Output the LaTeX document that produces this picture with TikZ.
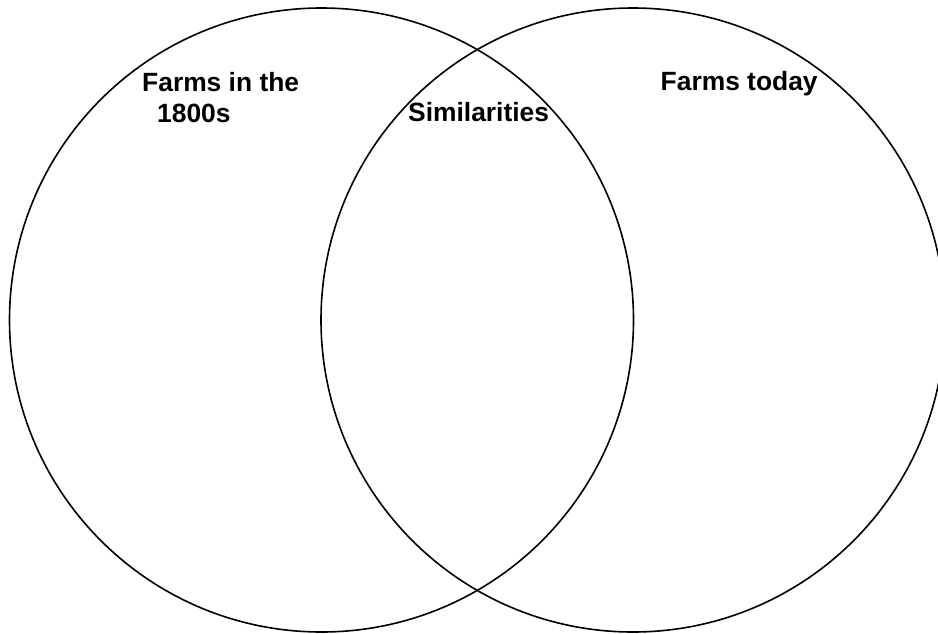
\documentclass[tikz,border=0pt]{standalone}
\usepackage{fontspec}
\setmainfont{Liberation Sans}
\begin{document}
\begin{tikzpicture}[x=1pt,y=-1pt,
  ring/.style={draw=black,line width=1.6pt},
  lbl/.style={anchor=base west,inner sep=0pt,font=\fontsize{26.4}{30}\selectfont\bfseries}]
\useasboundingbox (0,0) rectangle (938,633);
\begin{scope}
\clip (0,0) rectangle (938,633);
\node[ring,circle,minimum size=624pt,inner sep=0pt] (left) at (321.5,320) {};
\node[ring,circle,minimum size=624pt,inner sep=0pt] (right) at (633,320) {};
\end{scope}
\node[lbl] (t1) at (142,91) {Farms in the};
\node[lbl] (t1b) at (157,122) {1800s};
\node[lbl] (t2) at (408,121) {Similarities};
\node[lbl] (t3) at (660.5,90) {Farms today};
\end{tikzpicture}
\end{document}
